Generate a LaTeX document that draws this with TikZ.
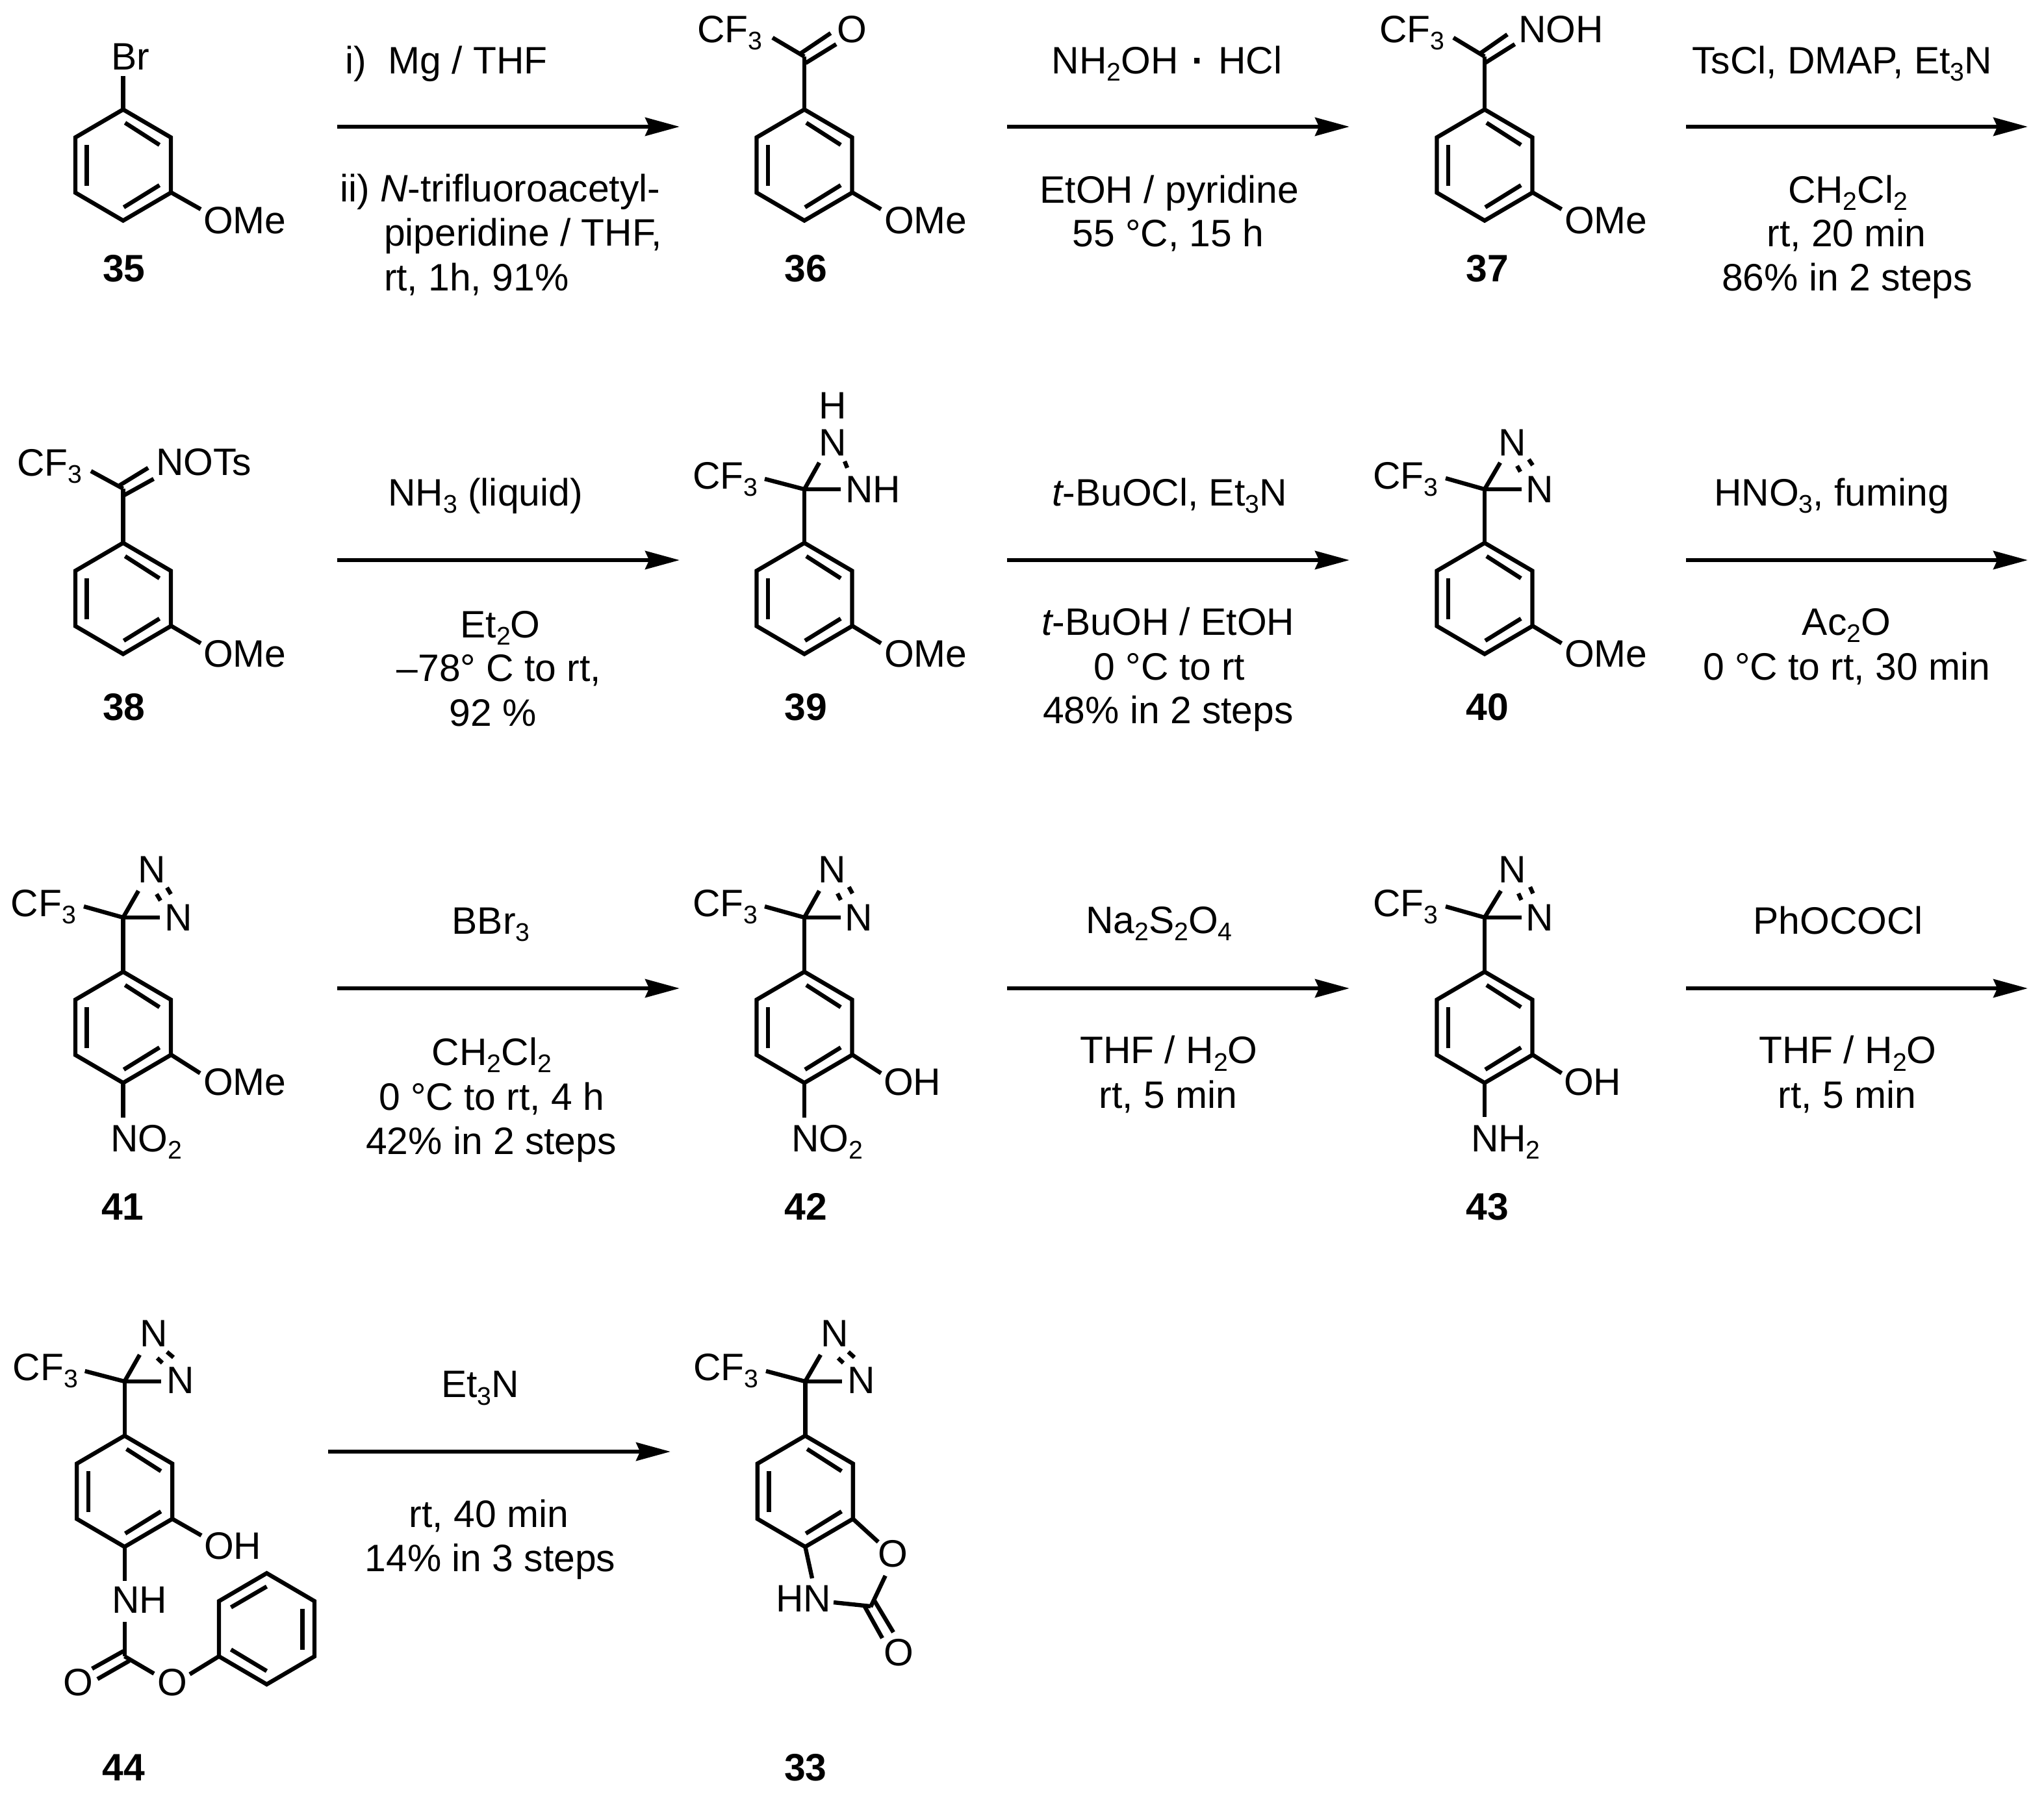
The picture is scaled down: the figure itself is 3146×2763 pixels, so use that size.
\documentclass[tikz,border=0pt]{standalone}
\usepackage{fontspec}
\setmainfont{Liberation Sans}
\usetikzlibrary{arrows.meta}
\newcommand\sbs[1]{\raisebox{-0.2em}{\fontsize{9.8}{10}\selectfont #1}}
\newcommand\lab[4]{\node[txt,anchor=base west] (#1) at (#2,#3) {#4};}
\newcommand\ctr[4]{\node[txt,anchor=base] (#1) at (#2,#3) {#4};}
\newcommand\cmpd[4]{\node[txt,anchor=base,font=\fontsize{14.7}{15}\selectfont\bfseries] (#1) at (#2,#3) {#4};}
\newcommand\rxn[4]{\coordinate (#1s) at (#2,#4); \coordinate (#1e) at (#3,#4); \draw[rxnarrow] (#1s) -- (#1e);}
\newcommand\hexring[2]{\draw[bond] (#1,#2-85.5) -- (#1+73.5,#2-42.5) -- (#1+73.5,#2+42.5) -- (#1,#2+85.5) -- (#1-73.5,#2+42.5) -- (#1-73.5,#2-42.5) -- cycle;}
\newcommand\benz[2]{\hexring{#1}{#2}
  \draw[bond] (#1+3,#2-65) -- (#1+56,#2-31);
  \draw[bond] (#1-56,#2-31) -- (#1-56,#2+32);
  \draw[bond] (#1+1,#2+65) -- (#1+56,#2+31);}
\newcommand\benzb[2]{\hexring{#1}{#2}
  \draw[bond] (#1-55,#2-33) -- (#1,#2-65);
  \draw[bond] (#1+55,#2-31) -- (#1+55,#2+32);
  \draw[bond] (#1-55,#2+32) -- (#1,#2+65);}
\begin{document}
\begin{tikzpicture}[x=0.25pt,y=-0.25pt,
  txt/.style={inner sep=0pt,outer sep=0pt,font=\fontsize{14.7}{15}\selectfont},
  bond/.style={line width=1.6pt,line join=miter,draw=black},
  rxnarrow/.style={line width=1.6pt,draw=black,-{Stealth[length=13.2pt,width=7pt,inset=1.5pt]}}]
\fill[white] (0,0) rectangle (3146,2763);
\useasboundingbox (0,0) rectangle (3146,2763);

% ---------- 35
\benz{189.5}{254}
\draw[bond] (189.5,168) -- (189.5,117);
\draw[bond] (263,296) -- (309,322);
\lab{br35}{171}{107}{Br}
\lab{ome35}{313}{359}{OMe}
\cmpd{c35}{191}{433}{35}
% reaction 1
\rxn{ra}{519}{1046}{195}
\lab{ra1}{531}{113}{i)\hspace{0.58em}Mg / THF}
\lab{ra2}{523}{310}{ii) {\itshape N}-trifluoroacetyl-}
\lab{ra3}{591}{378}{piperidine / THF,}
\lab{ra4}{591}{447}{rt, 1h, 91\%}

% ---------- 36
\benz{1238}{254}
\draw[bond] (1238,168) -- (1238,87);
\draw[bond] (1238,87) -- (1189,58);
\draw[bond] (1231,83) -- (1278.5,51);
\draw[bond] (1240,97) -- (1287,68);
\draw[bond] (1311.5,296) -- (1356,322);
\lab{cf36}{1073}{65}{CF\sbs{3}}
\lab{o36}{1288}{65}{O}
\lab{ome36}{1361}{359}{OMe}
\cmpd{c36}{1240}{433}{36}
\rxn{rb}{1550}{2077}{195}
\ctr{rb1}{1796}{113}{NH\sbs{2}OH\hspace{0.36em}{\bfseries ·}\hspace{0.36em}HCl}
\ctr{rb2}{1800}{312}{EtOH / pyridine}
\ctr{rb3}{1798}{379}{55 °C, 15 h}

% ---------- 37
\benz{2285}{254}
\draw[bond] (2285,168) -- (2285,87);
\draw[bond] (2285,87) -- (2237,58);
\draw[bond] (2277,83) -- (2320,53);
\draw[bond] (2285.5,97) -- (2331.5,68);
\draw[bond] (2358.5,296) -- (2403.5,322);
\lab{cf37}{2123}{65}{CF\sbs{3}}
\lab{noh37}{2337}{65}{NOH}
\lab{ome37}{2408}{359}{OMe}
\cmpd{c37}{2289}{433}{37}
\rxn{rc}{2595}{3121}{195}
\ctr{rc1}{2835}{113}{TsCl, DMAP, Et\sbs{3}N}
\ctr{rc2}{2844}{312}{CH\sbs{2}Cl\sbs{2}}
\ctr{rc3}{2842}{379}{rt, 20 min}
\ctr{rc4}{2843}{447}{86\% in 2 steps}

% ---------- 38
\benz{189.5}{921}
\draw[bond] (189.5,835) -- (189.5,752);
\draw[bond] (189.5,752) -- (140,725);
\draw[bond] (184,747) -- (228,720);
\draw[bond] (189.5,763) -- (236.5,737);
\draw[bond] (263,963) -- (309,990);
\lab{cf38}{26}{732}{CF\sbs{3}}
\lab{nots38}{240}{731}{NOTs}
\lab{ome38}{313}{1026}{OMe}
\cmpd{c38}{191}{1108}{38}
\rxn{rd}{519}{1046}{862}
\ctr{rd1}{747}{778}{NH\sbs{3} (liquid)}
\ctr{rd2}{770}{981}{Et\sbs{2}O}
\ctr{rd3}{768}{1048}{–78° C to rt,}
\ctr{rd4}{759}{1117}{92 \%}

% ---------- 39
\benz{1238}{921}
\draw[bond] (1238,835) -- (1238,753);
\draw[bond] (1238,753) -- (1177,737);
\draw[bond] (1238,753) -- (1261,712);
\draw[bond] (1238,753) -- (1294,753);
\draw[bond] (1300,710) -- (1304,720);
\draw[bond] (1311.5,963) -- (1356,990);
\lab{h39}{1260}{644}{H}
\lab{n39}{1260}{701}{N}
\lab{nh39}{1301}{773}{NH}
\lab{cf39}{1066}{752}{CF\sbs{3}}
\lab{ome39}{1361}{1026}{OMe}
\cmpd{c39}{1240}{1108}{39}
\rxn{re}{1550}{2077}{862}
\ctr{re1}{1800}{778}{{\itshape t}-BuOCl, Et\sbs{3}N}
\ctr{re2}{1798}{977}{{\itshape t}-BuOH / EtOH}
\ctr{re3}{1800}{1046}{0 °C to rt}
\ctr{re4}{1798}{1113}{48\% in 2 steps}

% ---------- 40
\benz{2285}{921}
\draw[bond] (2285,835) -- (2285,753);
\draw[bond] (2285,753) -- (2225,736);
\draw[bond] (2285,753) -- (2309,712);
\draw[bond] (2285,753) -- (2341.5,753);
\draw[bond] (2335,717) -- (2340,726);
\draw[bond] (2353,707) -- (2359,716);
\draw[bond] (2358.5,963) -- (2403.5,990);
\lab{na40}{2306}{701}{N}
\lab{nb40}{2348}{773}{N}
\lab{cf40}{2113}{752}{CF\sbs{3}}
\lab{ome40}{2408}{1026}{OMe}
\cmpd{c40}{2289}{1108}{40}
\rxn{rf}{2595}{3121}{862}
\ctr{rf1}{2819}{778}{HNO\sbs{3}, fuming}
\ctr{rf2}{2842}{977}{Ac\sbs{2}O}
\ctr{rf3}{2842}{1046}{0 °C to rt, 30 min}

% ---------- 41
\benz{189.5}{1581}
\draw[bond] (189.5,1496) -- (189.5,1412);
\draw[bond] (189.5,1412) -- (129,1395);
\draw[bond] (189.5,1412) -- (213,1371);
\draw[bond] (189.5,1412) -- (246,1412);
\draw[bond] (241,1376) -- (247,1386);
\draw[bond] (257,1366) -- (263,1376);
\draw[bond] (263,1623) -- (308,1651.6);
\draw[bond] (189.5,1666) -- (189.5,1720);
\lab{na41}{212}{1358}{N}
\lab{nb41}{253}{1432}{N}
\lab{cf41}{17}{1410}{CF\sbs{3}}
\lab{ome41}{313}{1685}{OMe}
\lab{no41}{170}{1772}{NO\sbs{2}}
\cmpd{c41}{189}{1877}{41}
\rxn{rg}{519}{1046}{1521}
\ctr{rg1}{755.6}{1437}{BBr\sbs{3}}
\ctr{rg2}{757}{1639}{CH\sbs{2}Cl\sbs{2}}
\ctr{rg3}{756.7}{1708}{0 °C to rt, 4 h}
\ctr{rg4}{756}{1776}{42\% in 2 steps}

% ---------- 42
\benz{1238}{1581}
\draw[bond] (1238,1496) -- (1238,1412);
\draw[bond] (1238,1412) -- (1177,1395);
\draw[bond] (1238,1412) -- (1261,1371);
\draw[bond] (1238,1412) -- (1294,1412);
\draw[bond] (1289,1375) -- (1294,1385);
\draw[bond] (1306.6,1365) -- (1312,1375);
\draw[bond] (1311.5,1623) -- (1356,1651.6);
\draw[bond] (1238,1666) -- (1238,1720);
\lab{na42}{1259}{1358}{N}
\lab{nb42}{1300}{1432}{N}
\lab{cf42}{1066}{1410}{CF\sbs{3}}
\lab{oh42}{1360}{1685}{OH}
\lab{no42}{1218}{1772}{NO\sbs{2}}
\cmpd{c42}{1240}{1877}{42}
\rxn{rh}{1550}{2077}{1521}
\ctr{rh1}{1784}{1436}{Na\sbs{2}S\sbs{2}O\sbs{4}}
\ctr{rh2}{1799}{1636.5}{THF / H\sbs{2}O}
\ctr{rh3}{1798}{1705}{rt, 5 min}

% ---------- 43
\benz{2285}{1581}
\draw[bond] (2285,1496) -- (2285,1412);
\draw[bond] (2285,1412) -- (2225,1395);
\draw[bond] (2285,1412) -- (2310,1371);
\draw[bond] (2285,1412) -- (2341.5,1412);
\draw[bond] (2337,1375) -- (2341.5,1385);
\draw[bond] (2355,1365) -- (2359.5,1375);
\draw[bond] (2358.5,1623) -- (2403.5,1651.6);
\draw[bond] (2285,1666) -- (2285,1719);
\lab{na43}{2306}{1358}{N}
\lab{nb43}{2348}{1432}{N}
\lab{cf43}{2113}{1410}{CF\sbs{3}}
\lab{oh43}{2407}{1685}{OH}
\lab{nh43}{2264}{1772}{NH\sbs{2}}
\cmpd{c43}{2289}{1877}{43}
\rxn{ri}{2595}{3121}{1521}
\ctr{ri1}{2829}{1437}{PhOCOCl}
\ctr{ri2}{2844}{1636.5}{THF / H\sbs{2}O}
\ctr{ri3}{2843}{1705}{rt, 5 min}

% ---------- 44
\benz{191.7}{2295}
\draw[bond] (191.7,2210) -- (191.7,2126);
\draw[bond] (191.7,2126) -- (130.7,2110);
\draw[bond] (191.7,2126) -- (215,2085);
\draw[bond] (191.7,2126) -- (248,2126);
\draw[bond] (242,2090) -- (250,2097.5);
\draw[bond] (257,2080.5) -- (267,2089);
\draw[bond] (265.2,2337.5) -- (310,2363);
\draw[bond] (191.7,2380) -- (191.7,2433);
\draw[bond] (191.7,2496) -- (191.7,2549);
\draw[bond] (190,2541) -- (141.7,2568);
\draw[bond] (199,2556) -- (150,2584);
\draw[bond] (191.7,2549) -- (237,2575.6);
\draw[bond] (292,2576.6) -- (337,2549);
\benzb{410.5}{2506.6}
\lab{na44}{215}{2072}{N}
\lab{nb44}{256}{2144}{N}
\lab{cf44}{20}{2124}{CF\sbs{3}}
\lab{oh44}{314}{2399}{OH}
\lab{nh44}{172}{2482}{NH}
\lab{oa44}{97}{2609}{O}
\lab{ob44}{242}{2609}{O}
\cmpd{c44}{190.5}{2740}{44}
\rxn{rj}{505}{1032}{2234}
\ctr{rj1}{739}{2150.5}{Et\sbs{3}N}
\ctr{rj2}{752.4}{2350}{rt, 40 min}
\ctr{rj3}{754.5}{2418}{14\% in 3 steps}

% ---------- 33
\benz{1239.3}{2295}
\draw[bond] (1239.3,2210) -- (1239.3,2126);
\draw[bond] (1239.3,2126) -- (1179,2110);
\draw[bond] (1239.3,2126) -- (1263,2085);
\draw[bond] (1239.3,2126) -- (1296,2126);
\draw[bond] (1290,2090) -- (1298,2097.5);
\draw[bond] (1305.7,2080.5) -- (1315,2089);
\draw[bond] (1312.8,2337.5) -- (1351.7,2373);
\draw[bond] (1239.3,2380) -- (1250,2429);
\draw[bond] (1283,2466) -- (1340,2472);
\draw[bond] (1340,2473) -- (1362.7,2425);
\draw[bond] (1330.7,2472) -- (1358,2521);
\draw[bond] (1345,2462) -- (1375,2512);
\lab{na33}{1263}{2072}{N}
\lab{nb33}{1304}{2144}{N}
\lab{cf33}{1067}{2124}{CF\sbs{3}}
\lab{oa33}{1351}{2411}{O}
\lab{hn33}{1194}{2480}{HN}
\lab{ob33}{1360}{2563}{O}
\cmpd{c33}{1239.7}{2740}{33}
\end{tikzpicture}
\end{document}
